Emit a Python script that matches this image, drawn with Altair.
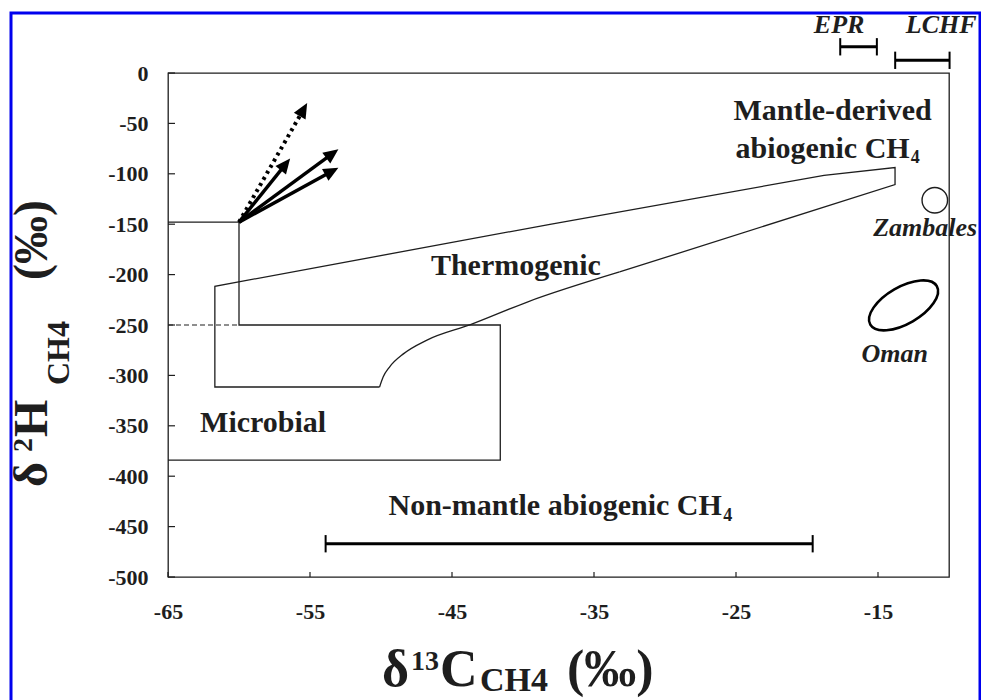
import math
import altair as alt
import pandas as pd

# ---------------- data ----------------
x_ticks = [-65, -55, -45, -35, -25, -15]
y_ticks = [0, -50, -100, -150, -200, -250, -300, -350, -400, -450, -500]

# Microbial field outline (d13C, d2H)
micro_x = [-65, -60, -60, -41.6, -41.6, -65]
micro_y = [-148, -148, -250, -250, -384, -384]
micro_dash_x = [-65, -60]
micro_dash_y = [-250, -250]

# Thermogenic field outline: straight parts and the curved lower-left part
thermo_x = [-33.2, -13.8, -13.8, -18.8, -38.1, -61.7, -61.7, -50.1]
thermo_y = [-197.4, -110.7, -93.8, -101.5, -150.1, -211.6, -311.5, -311.5]
curve_x = [-50.1, -49.85, -49.4, -48.4, -46.8, -43.7, -39.7, -33.2]
curve_y = [-311.5, -301.6, -291.7, -278.4, -265.2, -249.6, -227.2, -197.4]

# Arrows from the microbial corner
arrow_origin_x = -60.0
arrow_origin_y = -148.0
arrow_tip_x = [-55.2, -56.4, -53.0, -53.0]
arrow_tip_y = [-29.8, -84.9, -75.7, -93.9]
arrow_dotted = [True, False, False, False]

# Range bars
range_names = ["Non-mantle abiogenic CH4", "EPR", "LCHF"]
range_lo = [-53.9, -17.66, -13.79]
range_hi = [-19.6, -15.08, -9.96]
range_y = [-467, 26, 12.6]

# Site symbols
zamb_x, zamb_y = -11.0, -126.3
oman_x, oman_y = -13.2, -230.5

# Labels (anchor positions in data units)
bold_labels = ["Mantle-derived", "Thermogenic", "Microbial"]
bold_label_x = [-18.2, -40.5, -58.3]
bold_label_y = [-46.9, -200.7, -356.5]
ch_labels = ["abiogenic CH", "Non-mantle abiogenic CH"]
ch_label_x = [-12.77, -26.0]
ch_label_y = [-84.6, -438.8]
sub4_x = [-12.70, -25.9]
sub4_y = [-89.6, -444.7]
ital_labels = ["EPR", "LCHF", "Zambales", "Oman"]
ital_x = [-17.74, -10.55, -11.68, -13.82]
ital_y = [39.4, 39.4, -162.0, -287.0]

# ---------------- layout ----------------
W, H = 781, 504
XD = [-65, -10]
YD = [-500, 0]
PXX = W / (XD[1] - XD[0])
PXY = H / (YD[1] - YD[0])
FONT = "Liberation Serif"
INK = "#1e1e1e"

xs = alt.Scale(domain=XD, nice=False, zero=False)
ys = alt.Scale(domain=YD, nice=False, zero=False)

XAX = alt.Axis(values=x_ticks, title=None, grid=False, domain=False, ticks=False, tickSize=0,
               labelFont=FONT, labelFontSize=22, labelFontWeight="bold", labelColor=INK,
               labelPadding=24, labelFlush=False, labelExpr="'' + datum.value")
YAX = alt.Axis(values=y_ticks, title=None, grid=False, domain=False, ticks=False, tickSize=0,
               labelFont=FONT, labelFontSize=22, labelFontWeight="bold", labelColor=INK,
               labelPadding=20, labelFlush=False, labelExpr="'' + datum.value")


def X(f):
    return alt.X(f"{f}:Q", scale=xs, axis=XAX)


def Y(f):
    return alt.Y(f"{f}:Q", scale=ys, axis=YAX)


layers = []

# inward ticks
xt = pd.DataFrame({"v": x_ticks})
layers.append(alt.Chart(xt).mark_rule(color=INK, strokeWidth=1.2).encode(
    x=X("v"), y=alt.value(H), y2=alt.value(H - 5)))
yt = pd.DataFrame({"v": y_ticks})
layers.append(alt.Chart(yt).mark_rule(color=INK, strokeWidth=1.2).encode(
    y=Y("v"), x=alt.value(0), x2=alt.value(7)))

# Microbial outline
micro = pd.DataFrame({"x": micro_x, "y": micro_y, "o": list(range(len(micro_x)))})
layers.append(alt.Chart(micro).mark_line(color=INK, strokeWidth=1.3).encode(
    x=X("x"), y=Y("y"), order="o:Q"))
md = pd.DataFrame({"x": micro_dash_x, "y": micro_dash_y, "o": [0, 1]})
layers.append(alt.Chart(md).mark_line(color=INK, strokeWidth=1.2, strokeDash=[5, 3]).encode(
    x=X("x"), y=Y("y"), order="o:Q"))

# Thermogenic outline
th = pd.DataFrame({"x": thermo_x, "y": thermo_y, "o": list(range(len(thermo_x)))})
layers.append(alt.Chart(th).mark_line(color=INK, strokeWidth=1.3).encode(
    x=X("x"), y=Y("y"), order="o:Q"))
cv = pd.DataFrame({"x": curve_x, "y": curve_y, "o": list(range(len(curve_x)))})
layers.append(alt.Chart(cv).mark_line(color=INK, strokeWidth=1.3, interpolate="monotone").encode(
    x=X("x"), y=Y("y"), order="o:Q"))

# Arrows
rows = []
for tx, ty, dot in zip(arrow_tip_x, arrow_tip_y, arrow_dotted):
    dxp = (tx - arrow_origin_x) * PXX
    dyp = (ty - arrow_origin_y) * PXY
    L = math.hypot(dxp, dyp)
    back = 10.0 / L
    rows.append({
        "x0": arrow_origin_x, "y0": arrow_origin_y,
        "x1": tx - (tx - arrow_origin_x) * back, "y1": ty - (ty - arrow_origin_y) * back,
        "tx": tx, "ty": ty,
        "ang": math.degrees(math.atan2(dxp, dyp)) % 360,
        "dot": dot,
    })
ar = pd.DataFrame(rows)
layers.append(alt.Chart(ar).transform_filter("!datum.dot").mark_rule(
    color="black", strokeWidth=3.4).encode(x=X("x0"), y=Y("y0"), x2="x1:Q", y2="y1:Q"))
layers.append(alt.Chart(ar).transform_filter("datum.dot").mark_rule(
    color="black", strokeWidth=4, strokeDash=[3, 4]).encode(x=X("x0"), y=Y("y0"), x2="x1:Q", y2="y1:Q"))
layers.append(alt.Chart(ar).mark_point(
    shape="M0,0L1.35,3L-1.35,3Z", filled=True, color="black", size=100, opacity=1).encode(
    x=X("tx"), y=Y("ty"), angle=alt.Angle("ang:Q", scale=None)))

# Range bars
rg = pd.DataFrame({"name": range_names, "lo": range_lo, "hi": range_hi, "y": range_y})
layers.append(alt.Chart(rg).mark_rule(color="black", strokeWidth=3).encode(
    x=X("lo"), x2="hi:Q", y=Y("y")))
caps = pd.DataFrame({"x": range_lo + range_hi, "y": range_y + range_y})
layers.append(alt.Chart(caps).mark_point(
    shape="M0,-1L0,1", color="black", strokeWidth=2, size=300, opacity=1).encode(
    x=X("x"), y=Y("y")))

# Zambales circle and Oman ellipse
layers.append(alt.Chart(pd.DataFrame({"x": [zamb_x], "y": [zamb_y]})).mark_point(
    shape="circle", filled=False, color=INK, strokeWidth=1.4, size=650, opacity=1).encode(
    x=X("x"), y=Y("y")))
layers.append(alt.Chart(pd.DataFrame({"x": [oman_x], "y": [oman_y]})).mark_point(
    shape="M-1,0A1,0.48,0,1,1,1,0A1,0.48,0,1,1,-1,0Z", filled=False, color="black",
    strokeWidth=2.6, size=5900, angle=330, opacity=1).encode(
    x=X("x"), y=Y("y")))

# Labels
bl = pd.DataFrame({"t": bold_labels, "x": bold_label_x, "y": bold_label_y})
layers.append(alt.Chart(bl).mark_text(
    font=FONT, fontSize=30, fontWeight="bold", color=INK, align="center", baseline="alphabetic").encode(
    x=X("x"), y=Y("y"), text="t:N"))
cl = pd.DataFrame({"t": ch_labels, "x": ch_label_x, "y": ch_label_y})
layers.append(alt.Chart(cl).mark_text(
    font=FONT, fontSize=30, fontWeight="bold", color=INK, align="right", baseline="alphabetic").encode(
    x=X("x"), y=Y("y"), text="t:N"))
s4 = pd.DataFrame({"t": ["4", "4"], "x": sub4_x, "y": sub4_y})
layers.append(alt.Chart(s4).mark_text(
    font=FONT, fontSize=18, fontWeight="bold", color=INK, align="left", baseline="alphabetic").encode(
    x=X("x"), y=Y("y"), text="t:N"))
il = pd.DataFrame({"t": ital_labels, "x": ital_x, "y": ital_y})
layers.append(alt.Chart(il).mark_text(
    font=FONT, fontSize=26, fontWeight="bold", fontStyle="italic", color=INK, align="center",
    baseline="alphabetic").encode(x=X("x"), y=Y("y"), text="t:N"))

# Axis titles built from pieces (super/subscripts)
one = pd.DataFrame({"a": [0]})


def piece(txt, px, py, size, angle=0):
    kw = dict(font=FONT, fontSize=size, fontWeight="bold", color=INK, align="left",
              baseline="alphabetic", text=txt)
    if angle:
        kw["angle"] = angle
    return alt.Chart(one).mark_text(**kw).encode(x=alt.value(px), y=alt.value(py))


layers += [
    piece("δ", 214, 613, 52),
    piece("13", 243, 597, 28),
    piece("C", 272, 613, 52),
    piece("CH4", 312, 618, 34),
    piece("(‰)", 399, 613, 52),
]
layers += [
    piece("δ", -121, 414, 48, 270),
    piece("2", -136, 379, 28, 270),
    piece("H", -121, 364, 48, 270),
    piece("CH4", -99, 312, 32, 270),
    piece("(‰)", -121, 207, 48, 270),
]

# blue outer frame
layers.append(alt.Chart(one).mark_rect(fill=None, stroke="#0000ee", strokeWidth=3).encode(
    x=alt.value(-157), x2=alt.value(812), y=alt.value(-60), y2=alt.value(660)))

chart = alt.layer(*layers).properties(
    width=W, height=H,
    padding={"left": 168, "top": 73, "right": 32, "bottom": 123},
    autosize=alt.AutoSizeParams(type="none"),
    background="white",
).configure_view(stroke=INK, strokeWidth=1.3)

chart.save("out.html", embed_options={"renderer": "svg", "actions": False})
